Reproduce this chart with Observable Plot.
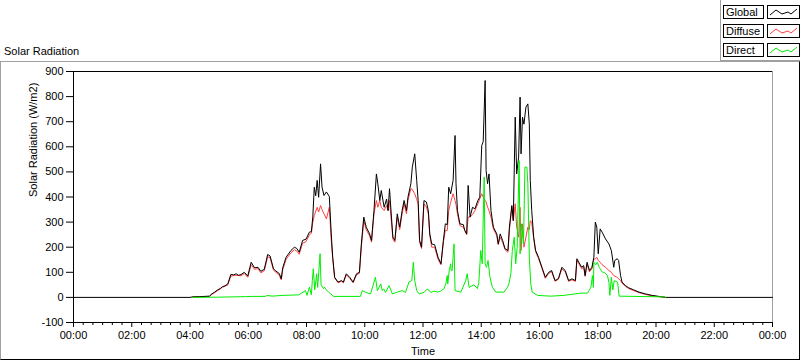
<!DOCTYPE html>
<html><head><meta charset="utf-8">
<script src="https://cdn.jsdelivr.net/npm/d3@7"></script>
<script src="https://cdn.jsdelivr.net/npm/@observablehq/plot@0.6"></script>
<style>
body{margin:0;background:#fff;font-family:"Liberation Sans",Arial,sans-serif;}
#wrap{position:relative;width:800px;height:361px;overflow:hidden;background:#fff;}
#frame{position:absolute;left:0;top:61px;width:800px;height:299px;box-sizing:border-box;border-left:1px solid #a0a0a0;border-top:1px solid #a0a0a0;border-right:1px solid #000;border-bottom:1px solid #000;}
#title{position:absolute;left:4px;top:45px;font-size:11px;line-height:13px;color:#000;}
#legend{position:absolute;left:720px;top:0;width:80px;height:61px;box-sizing:border-box;border-left:1px solid #a0a0a0;border-bottom:1px solid #a0a0a0;background:#fff;}
.lab{position:absolute;left:2px;width:41px;height:14px;box-sizing:border-box;border:1px solid #000;font-size:11px;line-height:12px;padding-left:2px;color:#000;}
.sw{position:absolute;left:46px;width:33px;height:14px;box-sizing:border-box;border:1px solid #000;}
.sw svg{position:absolute;left:0;top:0;}
#chart{position:absolute;left:0;top:62px;}
</style>
</head><body>
<div id="wrap">
  <div id="frame"></div>
  <div id="title">Solar Radiation</div>
  <div id="legend"></div>
  <div id="chart"></div>
</div>
<script>
// ---- data (time "HH:MM", W/m2) ----
const seriesNames = ["Global", "Diffuse", "Direct"];
const seriesColors = ["#000000", "#ff4040", "#00ee00"];

const globalSeries = [
["00:00",0],["04:00",0],["04:05",2],["04:20",3],["04:40",5],["04:45",14],["04:50",20],["04:57",30],["05:02",35],["05:07",43],
["05:12",46],["05:18",54],["05:24",91],["05:30",90],["05:35",94],["05:40",88],["05:45",91],["05:52",100],["05:59",85],["06:06",140],
["06:13",118],["06:20",120],["06:26",104],["06:33",112],["06:40",171],["06:45",165],["06:52",114],["06:57",105],["07:04",95],["07:08",74],
["07:11",118],["07:18",160],["07:28",187],["07:35",200],["07:40",195],["07:45",180],["07:52",227],["07:59",232],["08:06",260],["08:10",262],
["08:13",320],["08:16",439],["08:19",405],["08:22",466],["08:25",399],["08:29",532],["08:32",439],["08:36",406],["08:41",420],["08:47",402],
["08:51",253],["08:54",160],["08:58",80],["09:05",61],["09:12",67],["09:16",61],["09:22",94],["09:29",80],["09:36",61],["09:43",94],
["09:49",100],["09:53",213],["09:58",320],["10:03",280],["10:10",253],["10:14",227],["10:19",346],["10:24",492],["10:27",452],["10:31",386],
["10:34",426],["10:40",359],["10:45",392],["10:48",346],["10:51",433],["10:55",320],["10:58",240],["11:02",227],["11:07",333],["11:12",280],
["11:17",346],["11:21",386],["11:26",346],["11:29",399],["11:35",453],["11:38",519],["11:43",572],["11:47",466],["11:50",386],["11:53",227],
["11:57",200],["12:02",386],["12:07",380],["12:11",346],["12:14",253],["12:18",213],["12:24",210],["12:31",160],["12:37",134],["12:42",227],
["12:46",293],["12:50",290],["12:53",439],["12:57",413],["13:02",466],["13:06",645],["13:08",453],["13:11",346],["13:16",293],["13:23",290],
["13:26",267],["13:30",253],["13:33",446],["13:37",320],["13:42",359],["13:47",353],["13:53",386],["13:57",399],["14:01",605],["14:04",620],
["14:08",864],["14:10",506],["14:13",453],["14:16",492],["14:20",346],["14:25",280],["14:32",253],["14:35",213],["14:39",253],["14:44",227],
["14:49",194],["14:55",187],["14:58",280],["15:03",366],["15:06",306],["15:10",718],["15:13",492],["15:17",559],["15:20",798],["15:22",572],
["15:25",718],["15:28",690],["15:32",758],["15:36",771],["15:39",691],["15:41",466],["15:44",346],["15:48",240],["15:52",187],["15:58",160],
["16:05",120],["16:12",80],["16:19",100],["16:25",107],["16:32",67],["16:39",75],["16:46",120],["16:53",107],["17:00",67],["17:07",74],
["17:14",67],["17:17",154],["17:21",140],["17:27",120],["17:31",127],["17:34",87],["17:38",140],["17:43",107],["17:48",120],["17:52",160],
["17:55",300],["17:58",280],["18:01",174],["18:05",273],["18:09",260],["18:16",233],["18:23",213],["18:28",187],["18:33",120],["18:35",147],
["18:40",154],["18:43",147],["18:47",87],["18:50",61],["18:57",47],["19:04",38],["19:14",30],["19:25",21],["19:38",14],["19:52",8],
["20:06",4],["20:20",0],["24:00",0]
];

const diffuseSeries = [
["04:05",2],["04:40",4],["04:45",12],["04:57",27],["05:07",40],["05:18",50],["05:24",85],["05:35",88],["05:45",86],["05:52",95],
["05:59",80],["06:06",130],["06:13",112],["06:20",115],["06:26",98],["06:33",106],["06:40",162],["06:45",158],["06:52",108],["06:57",100],
["07:04",88],["07:08",70],["07:11",110],["07:18",152],["07:28",178],["07:35",190],["07:40",185],["07:45",172],["07:52",216],["07:59",222],
["08:06",250],["08:10",255],["08:13",300],["08:16",326],["08:22",359],["08:25",340],["08:29",366],["08:32",350],["08:36",333],["08:41",313],
["08:47",359],["08:51",227],["08:54",155],["08:58",78],["09:05",58],["09:12",64],["09:16",58],["09:22",90],["09:29",76],["09:36",58],
["09:43",90],["09:49",96],["09:53",200],["09:58",306],["10:03",270],["10:10",245],["10:14",220],["10:19",333],["10:24",386],["10:27",359],
["10:31",386],["10:34",359],["10:40",346],["10:45",366],["10:48",346],["10:51",386],["10:55",300],["10:58",232],["11:02",220],["11:07",320],
["11:12",270],["11:17",333],["11:21",373],["11:26",333],["11:29",386],["11:35",433],["11:38",430],["11:43",413],["11:47",390],["11:50",373],
["11:53",220],["11:57",195],["12:02",373],["12:07",360],["12:11",333],["12:14",246],["12:18",200],["12:24",200],["12:31",152],["12:37",130],
["12:42",220],["12:46",267],["12:50",267],["12:53",346],["12:57",379],["13:00",399],["13:02",413],["13:06",386],["13:08",370],["13:11",333],
["13:16",286],["13:23",280],["13:26",267],["13:30",250],["13:33",320],["13:37",320],["13:42",330],["13:47",346],["13:53",373],["13:57",393],
["14:01",413],["14:04",400],["14:08",386],["14:10",380],["14:13",360],["14:16",346],["14:20",320],["14:25",273],["14:32",246],["14:35",210],
["14:39",240],["14:44",220],["14:49",190],["14:55",180],["14:58",267],["15:03",359],["15:06",306],["15:10",373],["15:13",280],["15:17",240],
["15:20",359],["15:22",187],["15:25",293],["15:28",200],["15:32",240],["15:36",280],["15:39",270],["15:41",306],["15:44",300],["15:48",235],
["15:52",182],["15:58",155],["16:05",116],["16:12",76],["16:19",96],["16:25",103],["16:32",64],["16:39",72],["16:46",114],["16:53",102],
["17:00",64],["17:07",70],["17:14",64],["17:17",148],["17:21",134],["17:27",114],["17:31",120],["17:34",84],["17:38",132],["17:43",102],
["17:48",114],["17:52",152],["17:55",154],["17:58",160],["18:01",147],["18:05",140],["18:09",130],["18:16",120],["18:23",107],["18:28",100],
["18:33",87],["18:40",80],["18:47",67],["18:50",57],["18:57",44],["19:04",35],["19:14",27],["19:25",19],["19:38",12],["19:52",6],
["20:06",3],["20:20",0]
];

const directSeries = [
["04:05",0],["04:59",1],["05:54",3],["06:08",4],["06:35",4],["06:39",8],["06:49",5],["07:10",8],["07:44",10],["07:58",27],
["08:01",8],["08:06",41],["08:10",10],["08:12",67],["08:14",114],["08:17",30],["08:21",94],["08:23",40],["08:28",174],["08:30",50],
["08:35",35],["08:37",41],["08:41",30],["08:46",20],["08:50",14],["08:56",4],["09:51",4],["09:55",27],["10:02",20],["10:12",14],
["10:22",80],["10:26",27],["10:33",54],["10:36",27],["10:39",34],["10:43",20],["10:50",47],["10:57",14],["11:07",21],["11:17",27],
["11:24",20],["11:31",61],["11:37",67],["11:40",140],["11:43",67],["11:47",27],["11:52",14],["12:02",20],["12:09",34],["12:16",20],
["12:23",25],["12:30",21],["12:36",25],["12:43",34],["12:47",54],["12:50",87],["12:51",54],["12:54",107],["12:57",134],["12:58",107],
["13:00",107],["13:04",213],["13:06",27],["13:18",21],["13:28",67],["13:31",94],["13:35",40],["13:45",50],["13:52",35],["13:55",60],
["13:59",187],["14:02",134],["14:06",479],["14:08",134],["14:11",120],["14:14",147],["14:18",80],["14:23",40],["14:30",21],["14:47",21],
["14:54",40],["14:57",54],["15:01",94],["15:04",187],["15:08",240],["15:11",134],["15:14",200],["15:18",545],["15:20",174],["15:23",293],
["15:27",213],["15:30",519],["15:34",519],["15:36",453],["15:39",160],["15:42",54],["15:45",21],["15:56",8],["16:23",5],["16:50",8],
["17:25",17],["17:39",17],["17:42",27],["17:46",41],["17:49",87],["17:51",40],["17:52",140],["17:56",130],["17:59",140],["18:03",120],
["18:06",110],["18:10",100],["18:13",100],["18:20",87],["18:23",60],["18:25",8],["18:28",80],["18:31",30],["18:34",67],["18:41",60],
["18:44",5],["19:15",4],["20:17",2],["20:20",0]
];

const yTicks = [-100, 0, 100, 200, 300, 400, 500, 600, 700, 800, 900];
const xTickLabels = ["00:00","02:00","04:00","06:00","08:00","10:00","12:00","14:00","16:00","18:00","20:00","22:00","00:00"];
const yLabel = "Solar Radiation (W/m2)";
const xLabel = "Time";

// ---- build ----
const toMin = s => { const [h, m] = s.split(":").map(Number); return h * 60 + m; };
const rows = s => s.map(([t, v]) => ({t: toMin(t), v}));
const gData = rows(globalSeries), dData = rows(diffuseSeries), rData = rows(directSeries);
const majorTicks = xTickLabels.map((_, i) => i * 120);
const minorTicks = d3.range(0, 1441, 20).filter(m => m % 120 !== 0);

const chart = Plot.plot({
  width: 800, height: 299,
  marginLeft: 73, marginRight: 28, marginTop: 9, marginBottom: 39,
  x: {type: "linear", domain: [0, 1440]},
  y: {domain: [-100, 900]},
  style: {fontFamily: "Liberation Sans, Arial, sans-serif", fontSize: "11px", background: "transparent", color: "#000", overflow: "visible"},
  marks: [
    Plot.ruleY([900], {stroke: "#000"}),
    Plot.ruleX([1440], {stroke: "#a0a0a0"}),
    Plot.line(dData, {x: "t", y: "v", stroke: seriesColors[1], strokeWidth: 1, curve: "linear"}),
    Plot.line(gData, {x: "t", y: "v", stroke: seriesColors[0], strokeWidth: 1, curve: "linear"}),
    Plot.line(rData, {x: "t", y: "v", stroke: seriesColors[2], strokeWidth: 1, curve: "linear"}),
    Plot.ruleX([0], {stroke: "#000"}),
    Plot.ruleY([-100], {stroke: "#000"}),
    Plot.axisY({ticks: yTicks, tickSize: 7, tickPadding: 3, label: null, tickFormat: d => String(d), stroke: "#000"}),
    Plot.axisX({ticks: majorTicks, tickSize: 5, tickPadding: 4, label: null, tickFormat: d => xTickLabels[majorTicks.indexOf(d)], stroke: "#000"}),
    Plot.axisX({ticks: minorTicks, tickSize: 3, label: null, tickFormat: () => "", stroke: "#000"}),
    Plot.text([xLabel], {frameAnchor: "bottom", lineAnchor: "middle", dy: 29, fontSize: 11}),
    Plot.text([yLabel], {frameAnchor: "left", lineAnchor: "middle", rotate: -90, dx: -40, fontSize: 11})
  ]
});
document.getElementById("chart").appendChild(chart);

// ---- legend ----
const legend = document.getElementById("legend");
const swPts = "2,9 8,4 14,8 20,6 23,8 29,3";
seriesNames.forEach((name, i) => {
  const top = [5, 24, 43][i];
  const lab = document.createElement("div");
  lab.className = "lab"; lab.style.top = top + "px"; lab.textContent = name;
  legend.appendChild(lab);
  const sw = document.createElement("div");
  sw.className = "sw"; sw.style.top = top + "px";
  sw.innerHTML = `<svg width="31" height="12"><polyline points="${swPts}" fill="none" stroke="${seriesColors[i]}" stroke-width="1"/></svg>`;
  legend.appendChild(sw);
});
</script>
</body></html>
